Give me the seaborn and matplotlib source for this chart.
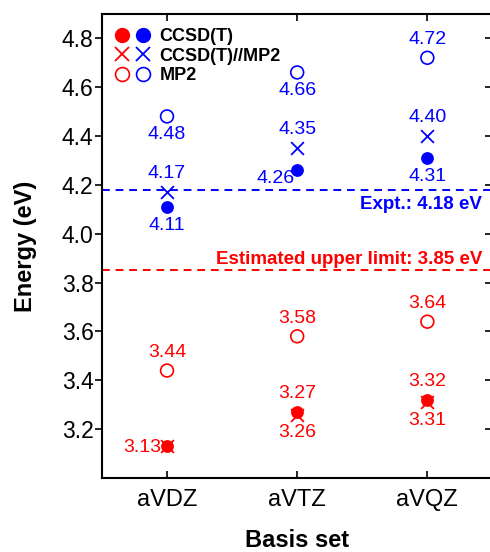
import matplotlib
matplotlib.use("Agg")
import matplotlib.pyplot as plt
import seaborn as sns
import pandas as pd
from matplotlib.lines import Line2D
from matplotlib.legend_handler import HandlerTuple

sns.set_theme(style="white")
plt.rcParams['font.family'] = ['Liberation Sans', 'DejaVu Sans']
plt.rcParams['text.color'] = 'black'
plt.rcParams['axes.labelcolor'] = 'black'
plt.rcParams['xtick.color'] = 'black'
plt.rcParams['ytick.color'] = 'black'

basis = ["aVDZ", "aVTZ", "aVQZ"]
blue_ccsdt = [4.11, 4.26, 4.31]
blue_ccsdt_mp2 = [4.17, 4.35, 4.40]
blue_mp2 = [4.48, 4.66, 4.72]
red_ccsdt = [3.13, 3.27, 3.32]
red_ccsdt_mp2 = [3.13, 3.26, 3.31]
red_mp2 = [3.44, 3.58, 3.64]
expt_value = 4.18
upper_limit = 3.85
yticks = [3.2, 3.4, 3.6, 3.8, 4.0, 4.2, 4.4, 4.6, 4.8]

BLUE = "#0000ff"
RED = "#ff0000"

fig = plt.figure(figsize=(4.9, 5.52), dpi=100)
ax = fig.add_axes([0.208, 0.134, 0.797, 0.841])

def pts(vals, color, kind):
    df = pd.DataFrame({"basis": basis, "E": vals})
    if kind == "filled":
        sns.scatterplot(data=df, x="basis", y="E", ax=ax, marker="o", s=85,
                        color=color, edgecolor=color, linewidth=0, zorder=3)
    elif kind == "x":
        sns.scatterplot(data=df, x="basis", y="E", ax=ax, marker="x", s=85,
                        color=color, linewidth=1.3, zorder=4)
    else:
        sns.scatterplot(data=df, x="basis", y="E", ax=ax, marker="o", s=85,
                        fc="none", ec=color, linewidth=1.2, zorder=3)

pts(blue_ccsdt, BLUE, "filled")
pts(blue_ccsdt_mp2, BLUE, "x")
pts(blue_mp2, BLUE, "open")
pts(red_ccsdt, RED, "filled")
pts(red_ccsdt_mp2, RED, "x")
pts(red_mp2, RED, "open")

ax.axhline(expt_value, color=BLUE, ls=(0, (4, 3)), lw=1.4, zorder=1)
ax.axhline(upper_limit, color=RED, ls=(0, (4, 3)), lw=1.4, zorder=1)

def lab(i, v, color, pos):
    off = {"above": (0, 7, "center", "bottom"),
           "below": (0, -7, "center", "top"),
           "left": (-4, -1, "right", "center"),
           "leftlow": (-2, -6, "right", "center")}[pos]
    ax.annotate(f"{v:.2f}", (i, v), xytext=(off[0], off[1]), textcoords="offset points",
                ha=off[2], va=off[3], color=color, fontsize=14)

for i, p in enumerate(["below", "below", "above"]):
    lab(i, blue_mp2[i], BLUE, p)
for i in range(3):
    lab(i, blue_ccsdt_mp2[i], BLUE, "above")
for i, p in enumerate(["below", "leftlow", "below"]):
    lab(i, blue_ccsdt[i], BLUE, p)
for i in range(3):
    lab(i, red_mp2[i], RED, "above")
for i, p in enumerate(["left", "above", "above"]):
    lab(i, red_ccsdt[i], RED, p)
for i in [1, 2]:
    lab(i, red_ccsdt_mp2[i], RED, "below")

ax.text(2.42, expt_value - 0.025, f"Expt.: {expt_value:.2f} eV", color=BLUE,
        fontsize=13.5, fontweight="bold", ha="right", va="top")
ax.text(2.42, upper_limit + 0.008, f"Estimated upper limit: {upper_limit:.2f} eV", color=RED,
        fontsize=13.5, fontweight="bold", ha="right", va="bottom")

ax.set_xlim(-0.5, 2.5)
ax.set_ylim(3.0, 4.9)
ax.set_yticks(yticks)
ax.set_xticks([0, 1, 2])
ax.set_xticklabels(basis)
ax.tick_params(axis="y", which="both", direction="out", length=5, width=1.2,
               labelsize=16.5, left=True, right=False, pad=1)
ax.tick_params(axis="x", direction="in", length=5, width=1.2, labelsize=17,
               bottom=True, top=True, pad=8)
ax2 = ax.secondary_yaxis("right")
ax2.set_yticks(yticks)
ax2.tick_params(direction="in", length=5, width=1.2, labelright=False)

for s in ax.spines.values():
    s.set_color("black")
    s.set_linewidth(1.5)
ax2.spines["right"].set_linewidth(1.5)

ax.set_xlabel("Basis set", fontsize=17, fontweight="bold", labelpad=13)
ax.set_ylabel("Energy (eV)", fontsize=17, fontweight="bold", labelpad=18)

h_fill = (Line2D([], [], marker="o", ls="", color=RED, ms=10),
          Line2D([], [], marker="o", ls="", color=BLUE, ms=10))
h_x = (Line2D([], [], marker="x", ls="", color=RED, ms=10, mew=1.3),
       Line2D([], [], marker="x", ls="", color=BLUE, ms=10, mew=1.3))
h_open = (Line2D([], [], marker="o", ls="", mfc="none", mec=RED, ms=10, mew=1.2),
          Line2D([], [], marker="o", ls="", mfc="none", mec=BLUE, ms=10, mew=1.2))
leg = ax.legend([h_fill, h_x, h_open], ["CCSD(T)", "CCSD(T)//MP2", "MP2"],
                handler_map={tuple: HandlerTuple(ndivide=None, pad=0.1)},
                loc="upper left", frameon=False, prop={"weight": "bold", "size": 13},
                handlelength=2.2, handletextpad=0.4, labelspacing=0.15,
                borderaxespad=0.2, bbox_to_anchor=(0.0, 0.993))

fig.savefig("out.png", dpi=100)
